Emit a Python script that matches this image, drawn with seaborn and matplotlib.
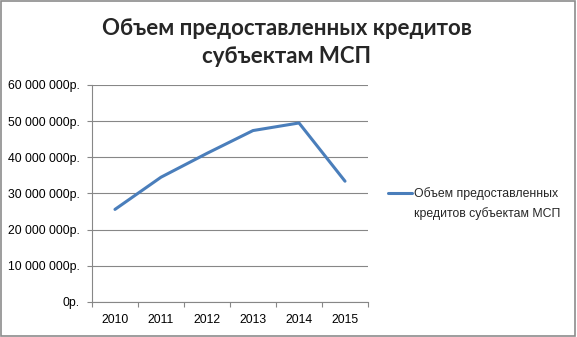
import matplotlib
matplotlib.use("Agg")
import matplotlib.pyplot as plt
import seaborn as sns
import pandas as pd
from matplotlib.ticker import FuncFormatter, FixedLocator
from matplotlib.patches import Rectangle
from matplotlib.lines import Line2D

years = ["2010", "2011", "2012", "2013", "2014", "2015"]
values = [25.6e6, 34.5e6, 41.1e6, 47.4e6, 49.5e6, 33.4e6]
series_name = "Объем предоставленных кредитов субъектам МСП"
legend_lines = ["Объем предоставленных", "кредитов субъектам МСП"]
title = "Объем предоставленных кредитов\nсубъектам МСП"
y_ticks = [0, 10e6, 20e6, 30e6, 40e6, 50e6, 60e6]

sns.set_theme(style="white")
plt.rcParams["font.family"] = ["Liberation Sans", "DejaVu Sans"]

df = pd.DataFrame({"year": years, "value": values})

fig = plt.figure(figsize=(5.77, 3.37), dpi=100)
ax = fig.add_axes([0.1594, 0.1039, 0.4784, 0.6439])

line_color = "#4A7EBB"
grid_color = "#878787"

sns.lineplot(data=df, x="year", y="value", ax=ax, color=line_color,
             linewidth=2.2, sort=False, label=series_name)

ax.set_xlim(-0.5, len(years) - 0.5)
ax.set_ylim(0, 60e6)

def fmt(v, pos):
    v = int(round(v))
    if v == 0:
        return "0р."
    s = f"{v:,}".replace(",", " ")
    return s + "р."

ax.yaxis.set_major_locator(FixedLocator(y_ticks))
ax.yaxis.set_major_formatter(FuncFormatter(fmt))

# category ticks: marks at boundaries, labels at centers
ax.xaxis.set_major_locator(FixedLocator([i - 0.5 for i in range(len(years) + 1)]))
ax.set_xticklabels([""] * (len(years) + 1))
ax.xaxis.set_minor_locator(FixedLocator(list(range(len(years)))))
ax.xaxis.set_minor_formatter(FuncFormatter(lambda v, p: years[int(round(v))]))

ax.tick_params(axis="x", which="major", direction="out", length=3.6, width=0.8,
               color=grid_color, bottom=True)
ax.tick_params(axis="x", which="minor", length=0, labelsize=8.8, pad=9,
               labelcolor="black", bottom=True)
ax.tick_params(axis="y", which="major", direction="out", length=3.6, width=0.8,
               color=grid_color, left=True, labelsize=8.8, pad=5, labelcolor="black")

ax.grid(axis="y", color=grid_color, linewidth=0.8)
ax.grid(axis="x", visible=False)
ax.set_axisbelow(True)

for side in ["top", "right"]:
    ax.spines[side].set_visible(False)
for side in ["left", "bottom"]:
    ax.spines[side].set_color(grid_color)
    ax.spines[side].set_linewidth(0.8)

ax.set_xlabel("")
ax.set_ylabel("")

ax.get_legend().remove()
handles, labels = ax.get_legend_handles_labels()
blank = Line2D([], [], linestyle="none")
fig.legend([handles[0], blank], legend_lines,
           loc="upper left", bbox_to_anchor=(0.672, 0.445), frameon=False,
           fontsize=8.8, handlelength=2.0, handletextpad=0.15,
           labelspacing=0.6, borderaxespad=0, borderpad=0)

fig.text(0.497, 0.875, title, ha="center", va="center",
         fontsize=16, fontweight="bold", family=["Lato", "DejaVu Sans"],
         linespacing=1.4)

fig.patches.append(Rectangle((0.001, 0.002), 0.996, 0.996, transform=fig.transFigure,
                             fill=False, edgecolor="#8C8C8C", linewidth=1.2))

fig.savefig("out.png", dpi=100)
